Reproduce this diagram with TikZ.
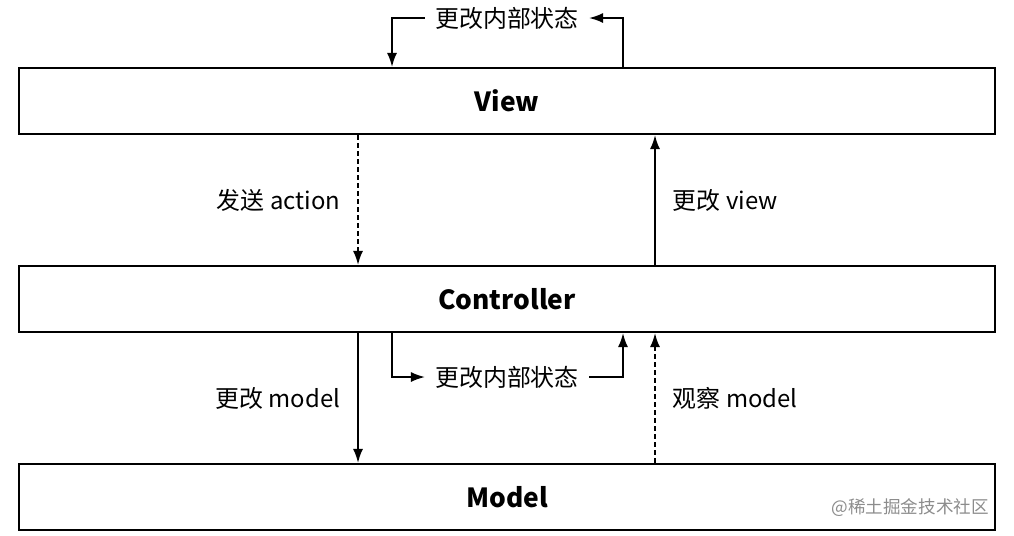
\documentclass[tikz,border=0pt]{standalone}
\usepackage{fontspec}
\setmainfont{Noto Sans CJK SC}
\usetikzlibrary{arrows.meta}
\begin{document}
\begin{tikzpicture}[x=0.02cm,y=-0.02cm]
  \tikzstyle{layer}=[draw,line width=1.2pt,minimum width=19.52cm,minimum height=1.32cm,inner sep=0,
    font=\fontsize{15}{18}\selectfont\bfseries]
  \tikzstyle{lbl}=[inner sep=0,inner xsep=0.2cm,font=\fontsize{13.6}{16}\selectfont]
  \tikzstyle{flow}=[line width=1pt,-{Latex[length=0.28cm,width=0.2cm]}]
  \tikzstyle{watch}=[flow,dash pattern=on 0.1cm off 0.06cm]
  \useasboundingbox (0,0) rectangle (1014,535);
  % the three layers
  \node[layer] (view) at (507,101) {View};
  \node[layer] (ctrl) at (507,299) {Controller};
  \node[layer] (model) at (507,497) {Model};
  \coordinate (lx) at (358,0);
  \coordinate (rx) at (655,0);
  \coordinate (ilx) at (392,0);
  \coordinate (irx) at (623,0);
  % view <-> controller
  \draw[watch] (view.south -| lx) -- node[midway,left=0.34cm,lbl,inner xsep=0] {发送 action} (ctrl.north -| lx);
  \draw[flow] (ctrl.north -| rx) -- node[midway,right=0.34cm,lbl,inner xsep=0] {更改 view} (view.south -| rx);
  % controller <-> model
  \draw[flow] (ctrl.south -| lx) -- node[midway,left=0.34cm,lbl,inner xsep=0] {更改 model} (model.north -| lx);
  \draw[watch] (model.north -| rx) -- node[midway,right=0.34cm,lbl,inner xsep=0] {观察 model} (ctrl.south -| rx);
  % internal state loops
  \node[lbl] (vloop) at (507,18) {更改内部状态};
  \draw[flow] (view.north -| irx) |- (vloop.east);
  \draw[flow] (vloop.west) -| (view.north -| ilx);
  \node[lbl] (cloop) at (507,377) {更改内部状态};
  \draw[flow] (ctrl.south -| ilx) |- (cloop.west);
  \draw[flow] (cloop.east) -| (ctrl.south -| irx);
  \node[anchor=east,text=black!45,font=\fontsize{10}{12}\selectfont] (mark) at (995,508) {@稀土掘金技术社区};
\end{tikzpicture}
\end{document}
